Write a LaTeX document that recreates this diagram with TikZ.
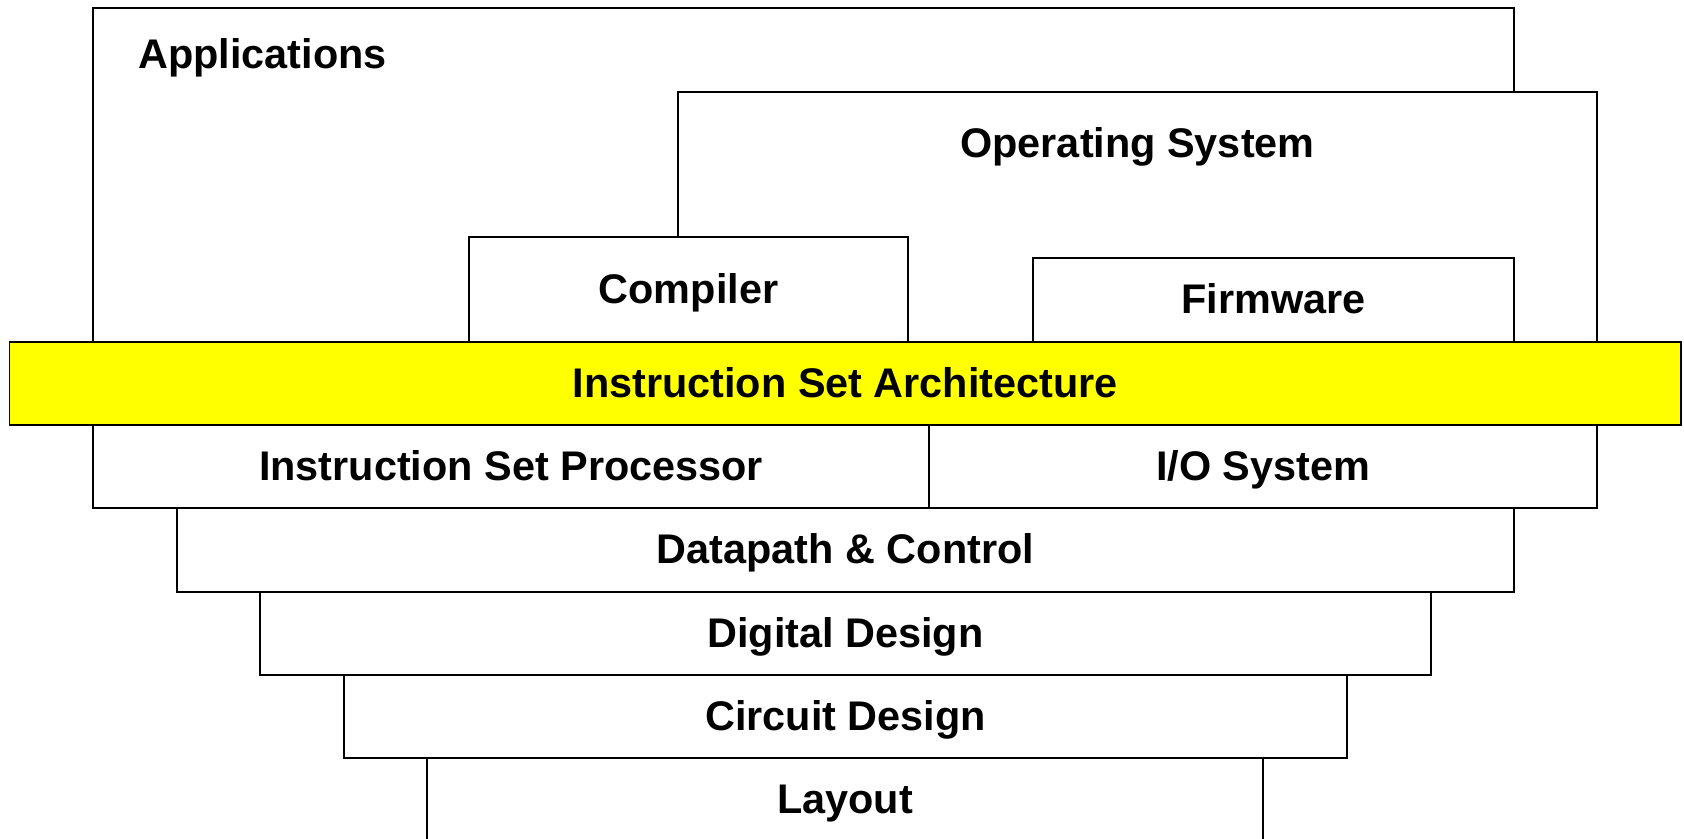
\documentclass[tikz,border=0pt]{standalone}
\usepackage{fontspec}
\setmainfont{Liberation Sans}
\definecolor{isayellow}{RGB}{255,255,0}
\begin{document}
\begin{tikzpicture}[x=0.5pt,y=-0.5pt,
  layer/.style={draw=black, line width=0.55pt, fill=white, inner sep=0pt,
    font=\fontsize{20.7}{24}\selectfont\bfseries, text height=13.8pt, text depth=0pt},
  lbl/.style={inner sep=0pt, font=\fontsize{20.7}{24}\selectfont\bfseries}]
\useasboundingbox (0,0) rectangle (1684,839);
\clip (0,0) rectangle (1684,839);
% upper layers
\node[layer, minimum width=710.5pt, minimum height=167pt] (apps) at (803.5,175) {};
\node[lbl, anchor=base west] (appstxt) at (138,69) {Applications};
\node[layer, minimum width=459.5pt, minimum height=125pt] (os) at (1137.5,217) {};
\node[lbl, anchor=base] (ostxt) at (1137.5,158) {Operating System};
\node[layer, minimum width=219.5pt, minimum height=52.5pt] (comp) at (688.5,289.5) {Compiler};
\node[layer, minimum width=240.5pt, minimum height=42pt] (firm) at (1273.5,300) {Firmware};
% ISA
\node[layer, fill=isayellow, minimum width=835.75pt, minimum height=41.5pt] (isa) at (845.25,383.5) {Instruction Set Architecture};
% lower layers
\node[layer, minimum width=418pt, minimum height=41.5pt] (isp) at (511,466.5) {Instruction Set Processor};
\node[layer, minimum width=334pt, minimum height=41.5pt] (io) at (1263,466.5) {I/O System};
\node[layer, minimum width=668.5pt, minimum height=42pt] (dp) at (845.5,550) {Datapath \& Control};
\node[layer, minimum width=585.5pt, minimum height=41.5pt] (dd) at (845.5,633.5) {Digital Design};
\node[layer, minimum width=501.5pt, minimum height=41.5pt] (cd) at (845.5,716.5) {Circuit Design};
\node[layer, minimum width=418pt, minimum height=41.5pt] (lay) at (845,799.5) {Layout};
\end{tikzpicture}
\end{document}
